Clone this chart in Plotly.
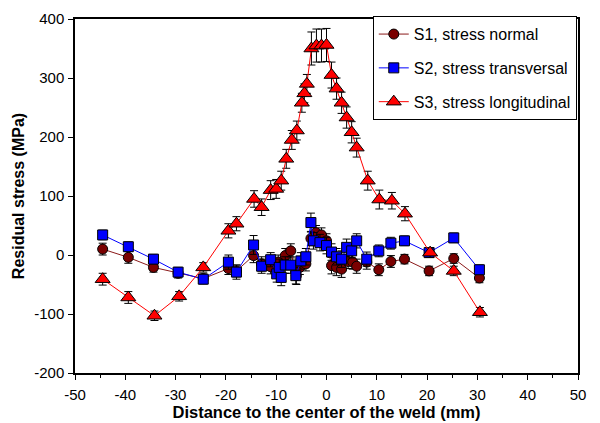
import plotly.graph_objects as go

# Data
s1_x = [-44.5, -39.4, -34.4, -29.5, -24.5, -19.5, -17.9, -14.5, -12.9, -11.1, -9.6, -8.2, -7.1, -6.0, -5.3,
        -4.1, -3.1, -2.1, -1.0, 0.0, 1.0, 2.0, 3.0, 4.3, 5.2, 6.0, 8.0, 10.4, 12.8, 15.5, 20.4, 25.3, 30.4]
s1_y = [10, -4, -21, -31, -40, -23, -27, -1, -15, -20, -12, -1, 7, -35, -21,
        -15, 28, 38, 34, 24, -18, -21, -24, -11, -12, -19, -12, -25, -11, -7, -27, -6, -39]
s1_err = [10, 10, 8, 8, 8, 10, 10, 12, 12, 12, 12, 12, 12, 15, 12,
          12, 12, 12, 12, 12, 14, 14, 14, 12, 12, 12, 12, 10, 10, 8, 8, 8, 8]

s2_x = [-44.5, -39.4, -34.4, -29.5, -24.5, -19.5, -17.9, -14.5, -12.9, -11.1, -9.9, -9.4, -9.0, -8.2, -7.1,
        -6.1, -5.1, -4.1, -3.1, -2.6, -1.3, 0.0, 1.0, 2.0, 3.0, 4.0, 5.0, 6.0, 8.0, 10.4, 12.8, 15.5, 20.4, 25.3, 30.4]
s2_y = [34, 14, -7, -29, -41, -12, -29, 17, -19, -8, -32, -21, -38, -17, -17,
        -35, -10, -3, 55, 24, 21, 16, 5, -3, -7, 13, 7, 24, -7, 7, 20, 24, 4, 29, -25]
s2_err = [8, 8, 8, 8, 8, 12, 12, 16, 12, 12, 14, 14, 14, 14, 14,
          14, 14, 14, 16, 14, 14, 14, 14, 14, 14, 14, 12, 12, 12, 10, 10, 8, 8, 8, 8]

s3_x = [-44.5, -39.4, -34.2, -29.3, -24.5, -19.5, -17.9, -14.4, -12.9, -11.1, -10.0, -9.0, -8.0, -6.9, -5.9,
        -4.9, -4.4, -3.9, -3.0, -2.0, -1.0, 0.0, 1.0, 2.0, 3.0, 4.0, 5.0, 6.0, 8.2, 10.5, 13.0, 15.6, 20.6, 25.3, 30.5]
s3_y = [-41, -72, -103, -70, -21, 41, 53, 95, 81, 110, 112, 126, 163, 195, 211,
        258, 274, 290, 350, 355, 355, 356, 305, 282, 258, 233, 208, 182, 126, 94, 92, 70, 4, -27, -97]
s3_err = [10, 10, 8, 8, 8, 12, 12, 14, 14, 16, 16, 16, 16, 16, 16,
          16, 16, 16, 28, 28, 28, 28, 22, 18, 18, 18, 18, 16, 16, 16, 14, 12, 8, 8, 8]

names = ["S1, stress normal", "S2, stress transversal", "S3, stress longitudinal"]

x_ticks = [-50, -40, -30, -20, -10, 0, 10, 20, 30, 40, 50]
x_tick_text = ["-50", "-40", "-30", "-20", "-10", "0", "10", "20", "30", "40", "50"]
y_ticks = [-200, -100, 0, 100, 200, 300, 400]
y_tick_text = ["-200", "-100", "0", "100", "200", "300", "400"]

FONT = "Liberation Sans, Arial, sans-serif"

fig = go.Figure()

series = [
    (s1_x, s1_y, s1_err, names[0], "circle", 10, "#7a0000", "#8b1a1a"),
    (s2_x, s2_y, s2_err, names[1], "square", 10, "#0000ff", "#0000ff"),
    (s3_x, s3_y, s3_err, names[2], "triangle-up", 13, "#ff0000", "#ff0000"),
]

for i, (x, y, e, nm, sym, sz, fill, lc) in enumerate(series):
    fig.add_trace(go.Scatter(
        x=x, y=y, name=nm, mode="lines+markers",
        legendgroup=f"g{i}",
        line=dict(color=lc, width=1),
        marker=dict(symbol=sym, size=sz, color=fill, line=dict(color="black", width=1)),
        error_y=dict(type="data", array=e, visible=True, color="black", thickness=1, width=4),
    ))

fig.update_layout(
    width=600, height=423,
    margin=dict(l=75, r=22, t=19, b=50),
    paper_bgcolor="white", plot_bgcolor="white",
    font=dict(family=FONT, size=15, color="black"),
    showlegend=True,
    legend=dict(
        x=0.592, y=1.008, xanchor="left", yanchor="top",
        bordercolor="black", borderwidth=1, bgcolor="white",
        font=dict(family=FONT, size=16), tracegroupgap=10,
    ),
)

fig.update_xaxes(
    range=[-50, 50], tickvals=x_ticks, ticktext=x_tick_text,
    showgrid=False, zeroline=False, automargin=False,
    showline=True, linecolor="black", linewidth=1.5, mirror=True,
    ticks="outside", ticklen=5, tickcolor="black", ticklabelstandoff=2,
    tickfont=dict(family=FONT, size=15),
    minor=dict(dtick=5, ticks="outside", ticklen=3, tickcolor="black"),
    title=dict(text="<b>Distance to the center of the weld (mm)</b>", standoff=4,
               font=dict(family=FONT, size=16.5, color="black")),
)
fig.update_yaxes(
    range=[-200, 400], tickvals=y_ticks, ticktext=y_tick_text,
    showgrid=False, zeroline=False, automargin=False,
    showline=True, linecolor="black", linewidth=1.5, mirror=True,
    ticks="outside", ticklen=5, tickcolor="black", ticklabelstandoff=1,
    tickfont=dict(family=FONT, size=15),
    title=dict(text="<b>Residual stress (MPa)</b>", standoff=6,
               font=dict(family=FONT, size=16, color="black")),
)

fig.write_html("out.html")
